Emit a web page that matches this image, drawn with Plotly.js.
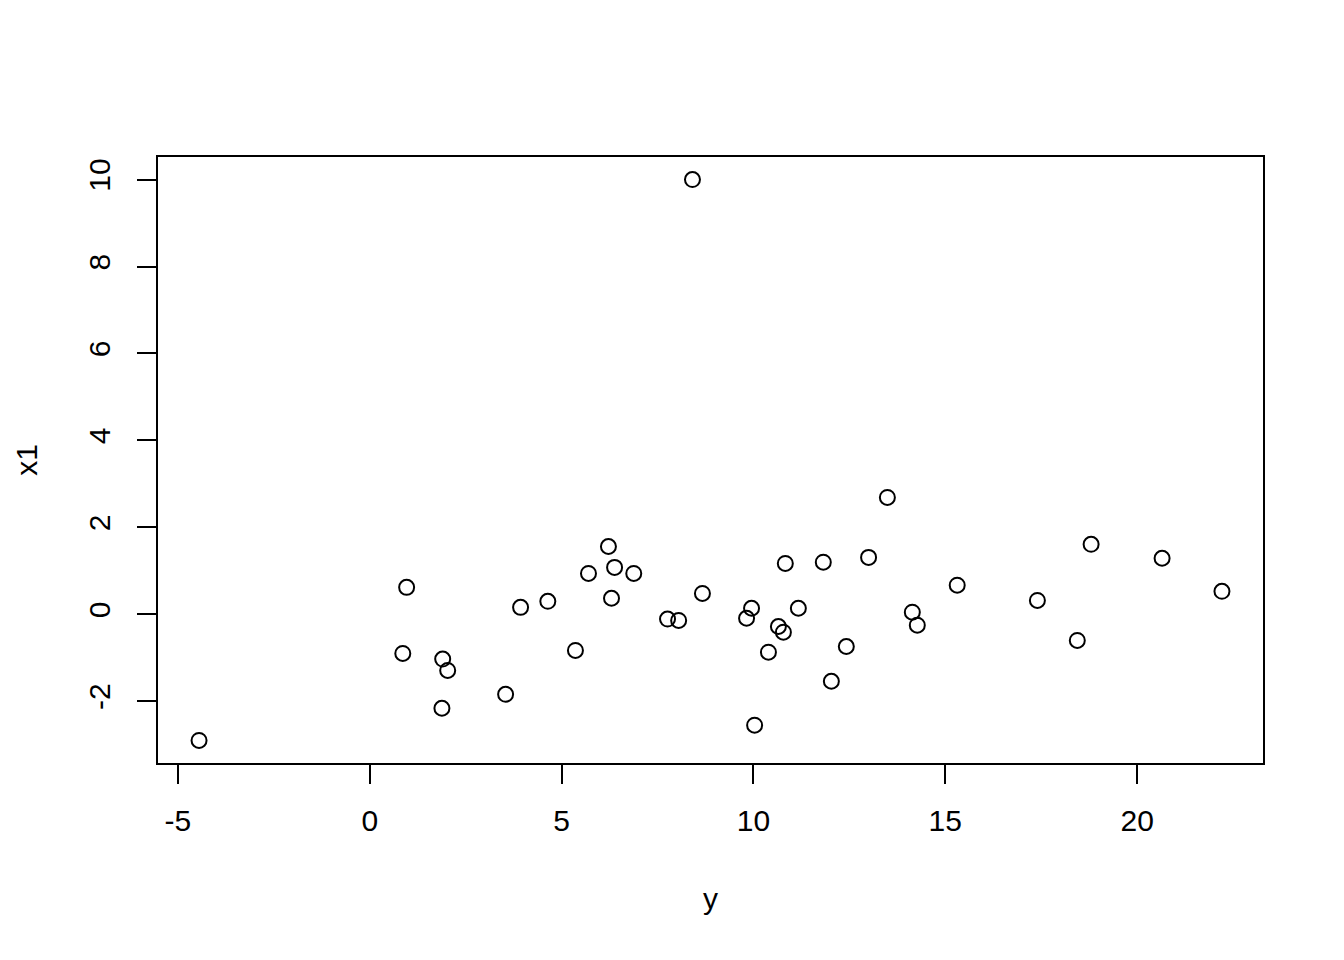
<!DOCTYPE html>
<html>
<head>
<meta charset="utf-8">
<script src="https://cdn.plot.ly/plotly-3.0.1.min.js"></script>
<style>html,body{margin:0;padding:0;background:#fff;}#chart{width:1344px;height:960px;}</style>
</head>
<body>
<div id="chart"></div>
<script>
const yVals = [-4.45, 0.86, 0.96, 1.88, 1.90, 2.03, 3.54, 3.93, 4.64, 5.36,
               5.70, 6.22, 6.38, 6.30, 6.88, 7.76, 8.05, 8.41, 8.67, 9.82,
               9.95, 10.03, 10.39, 10.65, 10.78, 10.83, 11.17, 11.82, 12.03, 12.42,
               13.00, 13.49, 14.14, 14.27, 15.31, 17.40, 18.44, 18.80, 20.65, 22.21];
const x1Vals = [-2.90, -0.90, 0.62, -2.16, -1.03, -1.29, -1.84, 0.16, 0.30, -0.83,
                0.94, 1.56, 1.08, 0.37, 0.94, -0.11, -0.14, 10.00, 0.48, -0.09,
                0.14, -2.55, -0.87, -0.28, -0.41, 1.17, 0.14, 1.20, -1.54, -0.74,
                1.31, 2.69, 0.05, -0.25, 0.67, 0.32, -0.60, 1.61, 1.29, 0.53];
const xTicks = [-5, 0, 5, 10, 15, 20];
const yTicks = [-2, 0, 2, 4, 6, 8, 10];

const font = {family: 'Liberation Sans, Arial, sans-serif', size: 30, color: '#000'};

const trace = {
  x: yVals, y: x1Vals, type: 'scatter', mode: 'markers',
  marker: {symbol: 'circle-open', size: 15, color: '#000', line: {width: 2, color: '#000'}},
  hoverinfo: 'x+y'
};

const layout = {
  width: 1344, height: 960,
  margin: {l: 158, r: 81, t: 157, b: 197, pad: 0},
  paper_bgcolor: '#fff', plot_bgcolor: '#fff',
  showlegend: false,
  font: font,
  xaxis: {
    range: [-5.52, 23.28], tickmode: 'array', tickvals: xTicks, ticktext: xTicks.map(String),
    showgrid: false, zeroline: false, showline: true, mirror: true, linecolor: '#000', linewidth: 2,
    ticks: 'outside', ticklen: 19, tickwidth: 2, tickcolor: '#000', ticklabelstandoff: 11,
    tickfont: font,
    title: {text: 'y', font: font, standoff: 52}
  },
  yaxis: {
    range: [-3.42, 10.52], tickmode: 'array', tickvals: yTicks, ticktext: yTicks.map(String),
    showgrid: false, zeroline: false, showline: true, mirror: true, linecolor: '#000', linewidth: 2,
    ticks: 'outside', ticklen: 19, tickwidth: 2, tickcolor: '#000', tickangle: -90, ticklabelstandoff: 15,
    tickfont: font,
    title: {text: 'x1', font: font, standoff: 37}
  }
};

Plotly.newPlot('chart', [trace], layout, {displayModeBar: false, staticPlot: true});
</script>
</body>
</html>
